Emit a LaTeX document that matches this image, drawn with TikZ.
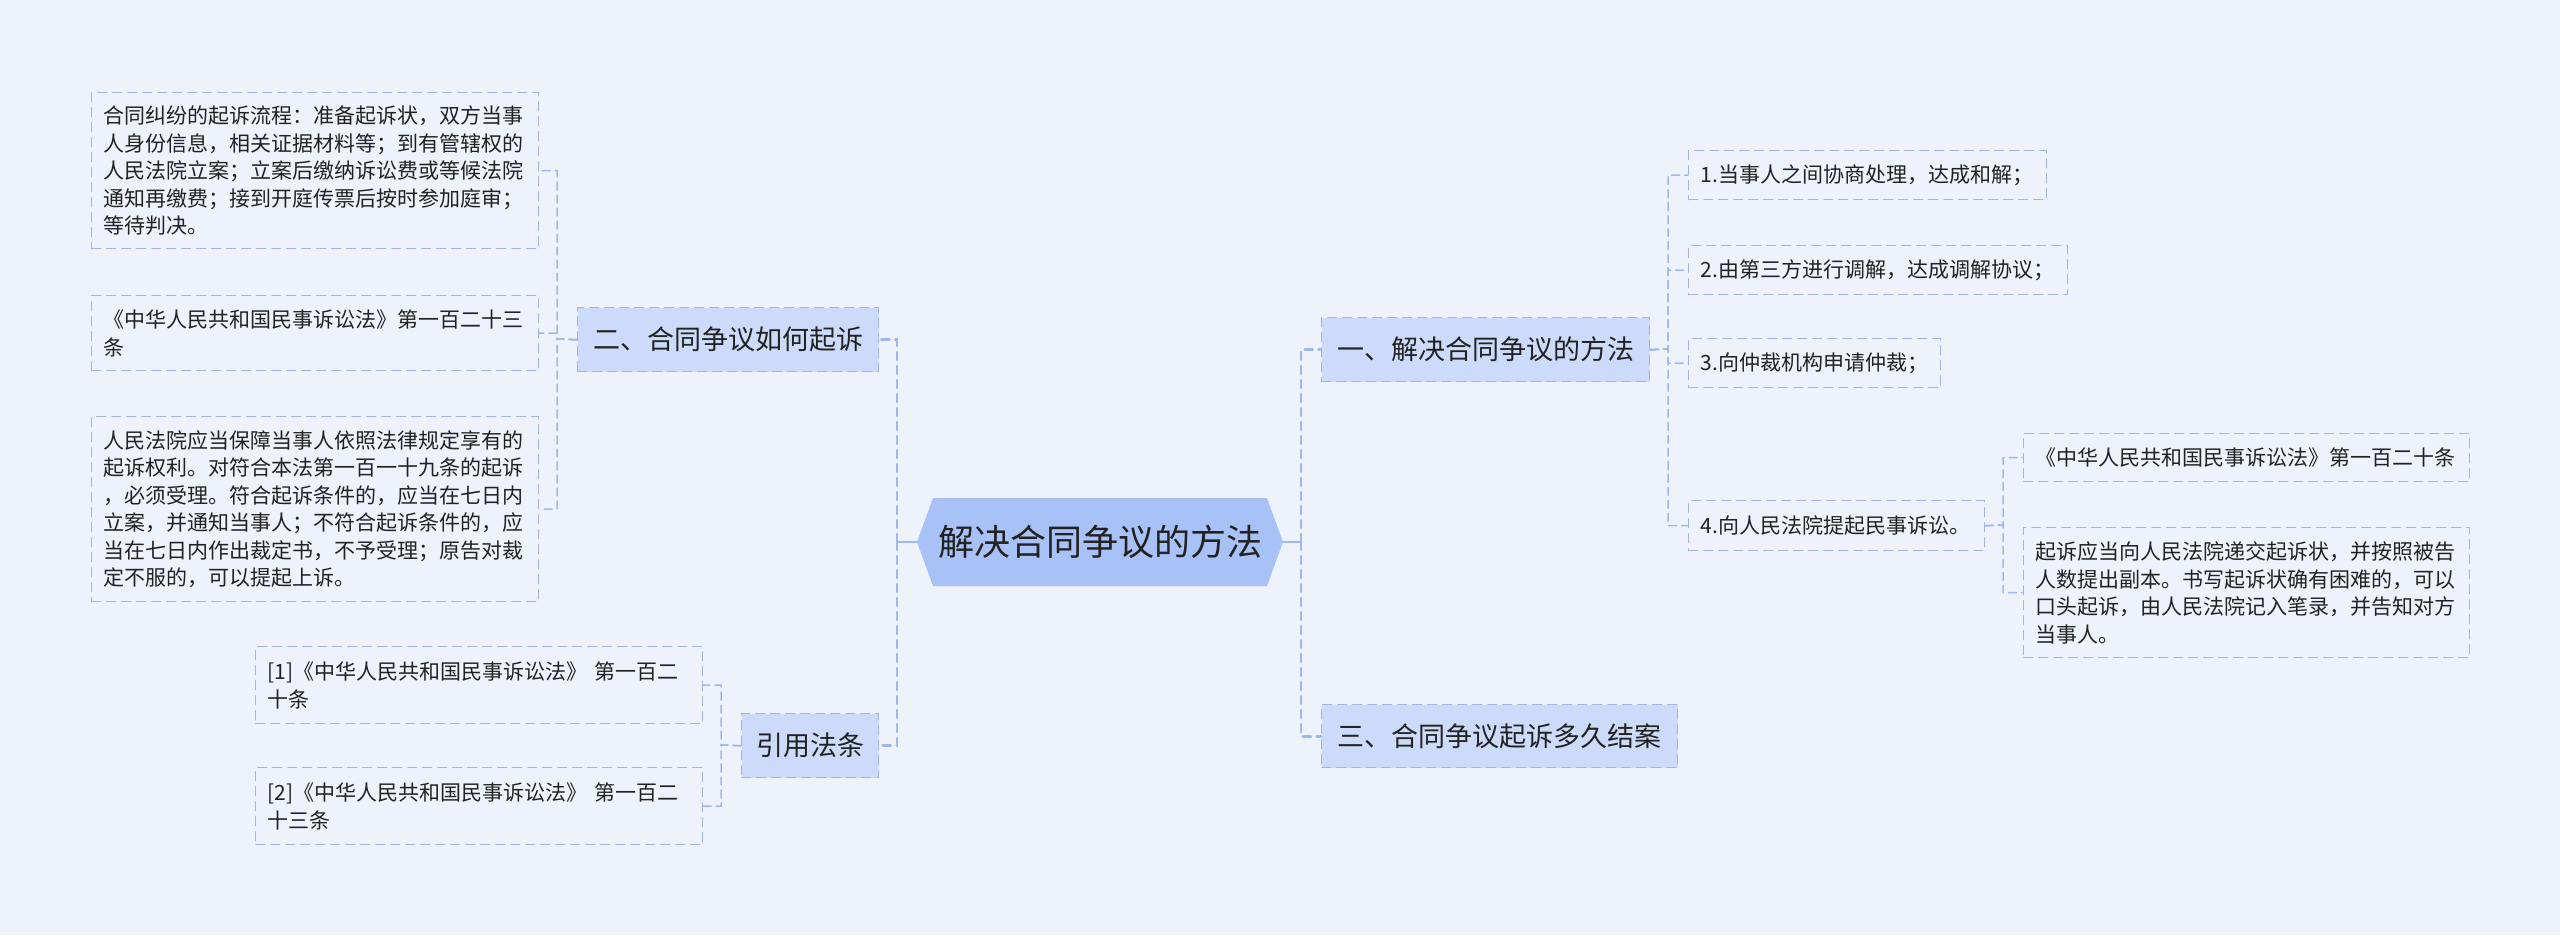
\documentclass[tikz,border=0pt]{standalone}
\usepackage{fontspec}
\usepackage{tikz}
\newfontfamily\cjk{Noto Sans CJK SC}
\definecolor{pagebg}{RGB}{238,242,251}
\definecolor{rootfill}{RGB}{168,194,248}
\definecolor{topicfill}{RGB}{204,219,250}
\definecolor{boxline}{RGB}{162,180,228}
\definecolor{linkcol}{RGB}{160,183,238}
\definecolor{inkcol}{RGB}{34,34,34}

\begin{document}
\begin{tikzpicture}[x=1pt,y=-1pt,line cap=round,
  leafbox/.style={draw=boxline,line width=1.4pt,dash pattern=on 9pt off 6pt,text=inkcol,font=\cjk\fontsize{21}{27.5}\selectfont,align=left,anchor=north west,inner xsep=12pt,inner ysep=0pt},
  topicbox/.style={draw=boxline,fill=topicfill,line width=1.4pt,dash pattern=on 9pt off 6pt,text=inkcol,font=\cjk\fontsize{27}{32}\selectfont,anchor=north west,inner sep=0pt},
  twig/.style={draw=linkcol,line width=1.5pt,dash pattern=on 8pt off 5pt},
  spine/.style={draw=linkcol,line width=2.8pt,dash pattern=on 8pt off 6pt},
  rootlink/.style={draw=linkcol,line width=2.8pt}]
\useasboundingbox (0,0) rectangle (2560,935);
\fill[pagebg] (0,0) rectangle (2560,935);
\fill[rootfill] (917,542) -- (933,498) -- (1267,498) -- (1283,542) -- (1267,586) -- (933,586) -- cycle;
\node[text=inkcol,font=\cjk\fontsize{36}{40}\selectfont,minimum width=366pt,minimum height=88pt,inner sep=0pt] (root) at (1100,542) {解决合同争议的方法};
\node[topicbox,minimum width=301pt,minimum height=64pt] (b2) at (577,307) {二、合同争议如何起诉};
\node[topicbox,minimum width=137pt,minimum height=64pt] (b4) at (741,713) {引用法条};
\node[topicbox,minimum width=328pt,minimum height=64pt] (r1) at (1321,317) {一、解决合同争议的方法};
\node[topicbox,minimum width=356pt,minimum height=63pt] (r3) at (1321,704) {三、合同争议起诉多久结案};
\node[leafbox,text width=423pt,minimum height=156pt] (l1) at (91,92) {合同纠纷的起诉流程：准备起诉状，双方当事\\人身份信息，相关证据材料等；到有管辖权的\\人民法院立案；立案后缴纳诉讼费或等候法院\\通知再缴费；接到开庭传票后按时参加庭审；\\等待判决。};
\node[leafbox,text width=423pt,minimum height=75pt] (l2) at (91,295) {《中华人民共和国民事诉讼法》第一百二十三\\条};
\node[leafbox,text width=423pt,minimum height=185pt] (l3) at (91,416) {人民法院应当保障当事人依照法律规定享有的\\起诉权利。对符合本法第一百一十九条的起诉\\，必须受理。符合起诉条件的，应当在七日内\\立案，并通知当事人；不符合起诉条件的，应\\当在七日内作出裁定书，不予受理；原告对裁\\定不服的，可以提起上诉。};
\node[leafbox,text width=423pt,minimum height=77pt] (c1) at (255,646) {[1]《中华人民共和国民事诉讼法》 第一百二\\十条};
\node[leafbox,text width=423pt,minimum height=77pt] (c2) at (255,767) {[2]《中华人民共和国民事诉讼法》 第一百二\\十三条};
\node[leafbox,text width=334pt,minimum height=49pt] (a1) at (1688,150) {1.当事人之间协商处理，达成和解；};
\node[leafbox,text width=355pt,minimum height=49pt] (a2) at (1688,245) {2.由第三方进行调解，达成调解协议；};
\node[leafbox,text width=228pt,minimum height=49pt] (a3) at (1688,338) {3.向仲裁机构申请仲裁；};
\node[leafbox,text width=272pt,minimum height=50pt] (a4) at (1688,500) {4.向人民法院提起民事诉讼。};
\node[leafbox,text width=422pt,minimum height=48pt] (d1) at (2023,433) {《中华人民共和国民事诉讼法》第一百二十条};
\node[leafbox,text width=422pt,minimum height=130pt] (d2) at (2023,527) {起诉应当向人民法院递交起诉状，并按照被告\\人数提出副本。书写起诉状确有困难的，可以\\口头起诉，由人民法院记入笔录，并告知对方\\当事人。};
\coordinate (ml) at (897,542);
\coordinate (mr) at (1301,542);
\coordinate (lsp) at (557,339);
\coordinate (csp) at (721,745);
\coordinate (asp) at (1668,349);
\coordinate (dsp) at (2003,525);
\draw[rootlink] (root.west) -- (ml);
\draw[rootlink] (root.east) -- (mr);
\draw[spine] (ml) |- (b2.east);
\draw[spine] (ml) |- (b4.east);
\draw[spine] (mr) |- (r1.west);
\draw[spine] (mr) |- (r3.west);
\draw[twig] (b2.west) -- (lsp) |- (l1.east);
\draw[twig] (b2.west) -- (lsp) |- (l2.east);
\draw[twig] (b2.west) -- (lsp) |- (l3.east);
\draw[twig] (b4.west) -- (csp) |- (c1.east);
\draw[twig] (b4.west) -- (csp) |- (c2.east);
\draw[twig] (r1.east) -- (asp) |- (a1.west);
\draw[twig] (r1.east) -- (asp) |- (a2.west);
\draw[twig] (r1.east) -- (asp) |- (a3.west);
\draw[twig] (r1.east) -- (asp) |- (a4.west);
\draw[twig] (a4.east) -- (dsp) |- (d1.west);
\draw[twig] (a4.east) -- (dsp) |- (d2.west);
\end{tikzpicture}
\end{document}
